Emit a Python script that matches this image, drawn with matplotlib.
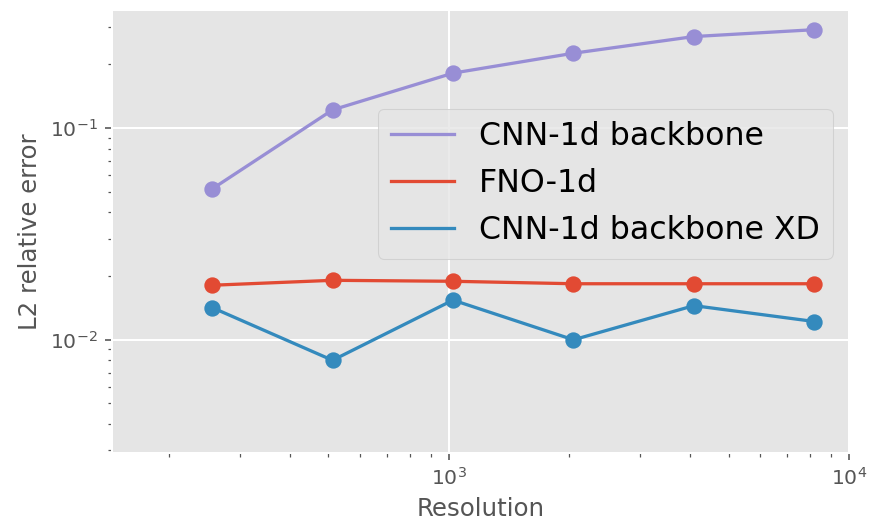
import matplotlib.pyplot as plt

plt.style.use('ggplot')

# resolutions and L2 relative errors per model
resolution = [256, 512, 1024, 2048, 4096, 8192]
cnn_backbone = [0.0516, 0.122, 0.182, 0.226, 0.271, 0.292]
fno_1d = [0.0181, 0.0191, 0.0189, 0.0184, 0.0184, 0.0184]
cnn_backbone_xd = [0.0142, 0.0080, 0.0154, 0.0100, 0.0145, 0.0122]

series = [
    ('CNN-1d backbone', cnn_backbone, '#988ED5'),
    ('FNO-1d', fno_1d, '#E24A33'),
    ('CNN-1d backbone XD', cnn_backbone_xd, '#348ABD'),
]

dpi = 147
fig = plt.figure(figsize=(869 / dpi, 523 / dpi), dpi=dpi)
ax = fig.add_axes([0.129, 0.134, 0.848, 0.847])

for label, vals, color in series:
    ax.plot(resolution, vals, color=color, lw=1.6, label=label)
    ax.plot(resolution, vals, 'o', color=color, ms=7)

ax.set_xscale('log')
ax.set_yscale('log')
ax.set_xlim(144, 1e4)
ax.set_ylim(0.00292, 0.362)
ax.grid(True, which='major', color='white', lw=1.0)
ax.tick_params(which='both', colors='#555555', labelsize=10)
ax.set_xlabel('Resolution', fontsize=12, color='#555555')
ax.set_ylabel('L2 relative error', fontsize=12, color='#555555')

ax.legend(loc='upper right', bbox_to_anchor=(0.978, 0.777), borderaxespad=0,
          fontsize=15.5)

fig.savefig('out.png', dpi=dpi)
